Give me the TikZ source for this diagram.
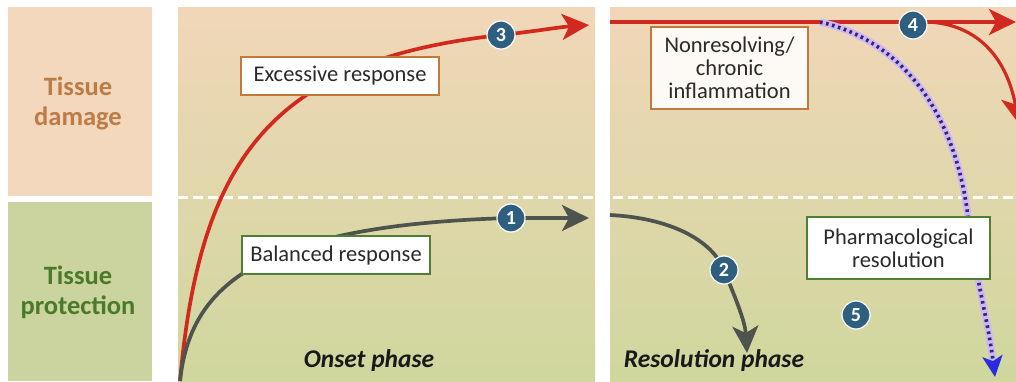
\documentclass[tikz,border=0pt]{standalone}
\usepackage{fontspec}
\setmainfont{Carlito}
\usetikzlibrary{arrows.meta}
\definecolor{peachbox}{HTML}{F3D8BD}
\definecolor{greenbox}{HTML}{CBD39E}
\definecolor{ptop}{HTML}{F1D7B8}
\definecolor{pmid}{HTML}{E9D5AE}
\definecolor{pbot}{HTML}{CFD79D}
\definecolor{dmgtxt}{HTML}{BC7C47}
\definecolor{protxt}{HTML}{4A7A2A}
\definecolor{redc}{HTML}{D2291E}
\definecolor{grayc}{HTML}{4E534E}
\definecolor{orgbord}{HTML}{C27A3C}
\definecolor{grnbord}{HTML}{4F7F30}
\definecolor{numblue}{HTML}{2E5F7E}
\definecolor{lav}{HTML}{CDB8F4}
\definecolor{dotc}{HTML}{33267A}
\definecolor{bluetip}{HTML}{2B2BE0}
\definecolor{txtc}{HTML}{2A2A2A}
\begin{document}
\begin{tikzpicture}[x=1pt,y=-1pt,
  sidelbl/.style={align=center,font=\fontsize{26.5}{30}\selectfont\bfseries},
  obox/.style={draw=orgbord,line width=1.6pt,fill=white,align=center,inner sep=0pt,text=txtc,font=\fontsize{22.5}{23}\selectfont},
  gbox/.style={draw=grnbord,line width=1.6pt,fill=white,align=center,inner sep=0pt,text=txtc,font=\fontsize{22.5}{23}\selectfont},
  num/.style={circle,fill=numblue,draw=white,line width=1.2pt,minimum size=28pt,inner sep=0pt,text=white,font=\fontsize{20}{20}\selectfont\bfseries},
  phase/.style={font=\fontsize{25.5}{25}\selectfont\bfseries\itshape,text=black!90},
  redln/.style={draw=redc,line width=3.7pt},
  grayln/.style={draw=grayc,line width=3.7pt},
  dashln/.style={draw=white,line width=3pt,dash pattern=on 10pt off 5pt},
  bigtip/.style={-{Stealth[length=27pt,width=26pt,inset=7pt]}}
]
\useasboundingbox (0,0) rectangle (1016,381);
\fill[white] (0,0) rectangle (1016,381);
% side columns
\fill[peachbox] (8,7) rectangle (152,196);
\fill[greenbox] (8,202) rectangle (152,381);
\node[sidelbl,text=dmgtxt] (tdmg) at (78,103) {Tissue\\damage};
\node[sidelbl,text=protxt] (tpro) at (78,292) {Tissue\\protection};
% panels
\shade[top color=ptop,middle color=pmid,bottom color=pbot] (178,7) rectangle (595,381);
\shade[top color=ptop,middle color=pmid,bottom color=pbot] (610,7) rectangle (1016,381);
\coordinate (dl) at (178,197);
\coordinate (dr) at (1016,197);
\draw[dashln] (dl) -- (dr);
% key points
\coordinate (o) at (180,381);
\coordinate (p1) at (511,218);
\coordinate (p2) at (724,270);
\coordinate (p3) at (501,35);
\coordinate (p4) at (913,25);
\coordinate (p5) at (856,315);
\coordinate (e1) at (589,218);
\coordinate (e3) at (589,25);
\coordinate (s2) at (610,215);
\coordinate (e2) at (747,353);
\coordinate (s4) at (610,22);
\coordinate (e4) at (1016,22);
\coordinate (b4) at (928,22);
\coordinate (eb) at (1019,124);
\coordinate (s5) at (820,22);
\coordinate (m5) at (968,217);
\coordinate (e5) at (995,377);
% onset curves
\draw[redln,bigtip] (o) .. controls (200,160) and (270,60) .. (p3) .. controls (530,32) and (560,27) .. (e3);
\draw[grayln,bigtip] (o) .. controls (190,290) and (250,225) .. (p1) .. controls (540,218) and (560,218) .. (e1);
% resolution curves
\draw[grayln,bigtip] (s2) .. controls (670,218) and (712,240) .. (p2) .. controls (734,295) and (745,320) .. (e2);
\begin{scope}
\clip (610,7) rectangle (1016,381);
\draw[redln,line width=3.2pt,bigtip] (b4) .. controls (975,24) and (1006,55) .. (eb);
\end{scope}
\draw[redln,bigtip] (s4) -- (e4);
\draw[draw=lav,line width=7pt,shorten >=14pt] (s5) .. controls (900,40) and (955,110) .. (m5) .. controls (975,275) and (988,320) .. (e5);
\draw[draw=dotc,line width=3.6pt,dash pattern=on 2.6pt off 3.6pt,-{Stealth[length=21pt,width=20pt,inset=5pt,color=bluetip]}] (s5) .. controls (900,40) and (955,110) .. (m5) .. controls (975,275) and (988,320) .. (e5);
% boxes
\node[obox,minimum width=198pt,minimum height=38pt] (exc) at (340,76) {Excessive response};
\node[gbox,minimum width=188pt,minimum height=38pt] (bal) at (336,255) {Balanced response};
\node[obox,fill=white!85!ptop,minimum width=157pt,minimum height=82pt] (nonres) at (729.5,68) {Nonresolving/\\chronic\\inflammation};
\node[gbox,minimum width=183pt,minimum height=62pt] (pharm) at (898.5,248) {Pharmacological\\resolution};
% numbers
\node[num] (n1) at (p1) {1};
\node[num] (n2) at (p2) {2};
\node[num] (n3) at (p3) {3};
\node[num] (n4) at (p4) {4};
\node[num] (n5) at (p5) {5};
% phase labels
\node[phase] (onset) at (369,361) {Onset phase};
\node[phase] (resol) at (714,361) {Resolution phase};
\end{tikzpicture}
\end{document}
